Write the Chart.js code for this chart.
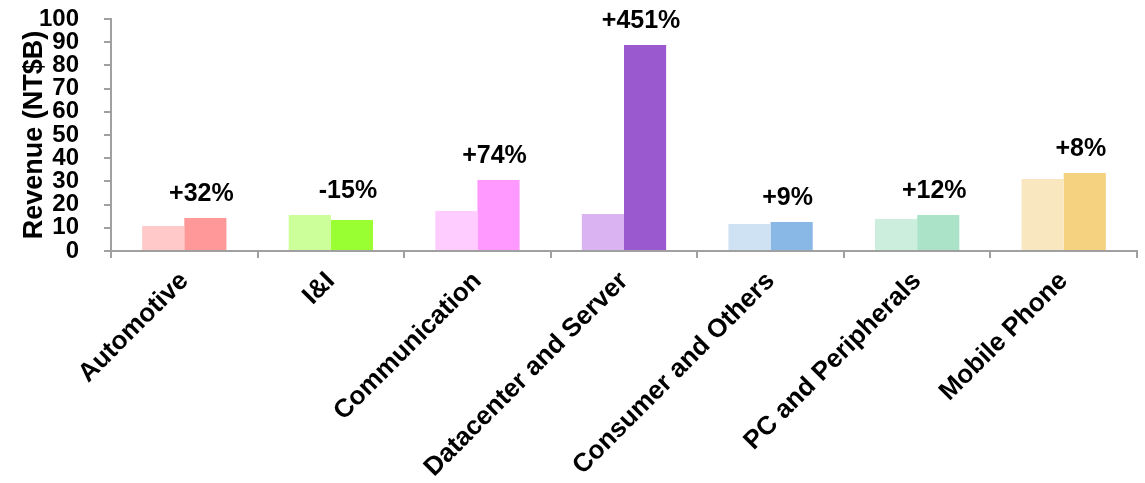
<!DOCTYPE html>
<html>
<head>
<meta charset="utf-8">
<script src="https://cdn.jsdelivr.net/npm/chart.js@4"></script>
<style>
  html, body { margin: 0; padding: 0; background: #fff; }
  #wrap { width: 1145px; height: 483px; }
</style>
</head>
<body>
<div id="wrap"><canvas id="chart"></canvas></div>
<script>
const categories = ['Automotive', 'I&I', 'Communication', 'Datacenter and Server',
    'Consumer and Others', 'PC and Peripherals', 'Mobile Phone'];
const priorRevenue = [10.8, 15.5, 17.2, 16.0, 11.6, 13.8, 31.0];
const currentRevenue = [14.2, 13.4, 30.6, 88.8, 12.5, 15.5, 33.6];
const growthLabels = ['+32%', '-15%', '+74%', '+451%', '+9%', '+12%', '+8%'];
const yTicks = [0, 10, 20, 30, 40, 50, 60, 70, 80, 90, 100];

const lightColors = ['#ffc9c9', '#ccff99', '#ffccff', '#d9b3f2', '#cfe2f3', '#ccefdd', '#f9e7c0'];
const darkColors = ['#ff9999', '#99ff33', '#ff99ff', '#9b59cf', '#8ab8e6', '#abe3c9', '#f4d27f'];

const FONT = '"Liberation Sans", Arial, sans-serif';

const growthPlugin = {
    id: 'growth',
    afterDatasetsDraw(chart) {
        const ctx = chart.ctx;
        const yScale = chart.scales.y;
        const dark = chart.getDatasetMeta(1).data;
        ctx.save();
        ctx.font = 'bold 25px ' + FONT;
        ctx.fillStyle = '#000';
        ctx.textAlign = 'center';
        ctx.textBaseline = 'middle';
        growthLabels.forEach((txt, i) => {
            const top = Math.max(priorRevenue[i], currentRevenue[i]);
            ctx.fillText(txt, dark[i].x - 4, yScale.getPixelForValue(top) - 24);
        });
        ctx.restore();
    }
};

new Chart(document.getElementById('chart'), {
    type: 'bar',
    data: {
        labels: categories,
        datasets: [{
            data: priorRevenue,
            backgroundColor: lightColors,
            barPercentage: 1.0,
            categoryPercentage: 0.575
        }, {
            data: currentRevenue,
            backgroundColor: darkColors,
            barPercentage: 1.0,
            categoryPercentage: 0.575
        }]
    },
    options: {
        responsive: true,
        maintainAspectRatio: false,
        animation: false,
        layout: { padding: { top: 0, right: 8, left: 18, bottom: 0 } },
        plugins: {
            legend: { display: false },
            tooltip: { enabled: false }
        },
        scales: {
            x: {
                afterFit(scale) {
                    // let the rotated first label run under the y axis
                    scale.paddingLeft = 0;
                    scale.paddingRight = 0;
                    scale.height = 232;
                },
                grid: {
                    offset: true,
                    drawOnChartArea: false,
                    drawTicks: true,
                    tickLength: 7,
                    color: '#a0a0a0',
                    lineWidth: 2
                },
                border: { color: '#a0a0a0', width: 2 },
                ticks: {
                    color: '#000',
                    font: { family: FONT, size: 26, weight: 'bold' },
                    maxRotation: 45,
                    minRotation: 45,
                    padding: 8,
                    autoSkip: false
                }
            },
            y: {
                min: 0,
                max: 100,
                afterBuildTicks(scale) {
                    scale.ticks = yTicks.map(v => ({ value: v }));
                },
                afterFit(scale) {
                    scale.width = 93;
                    scale.paddingTop = 19;
                    scale.paddingBottom = 14;
                },
                grid: {
                    drawOnChartArea: false,
                    tickLength: 7,
                    color: '#a0a0a0',
                    lineWidth: 2
                },
                border: { color: '#a0a0a0', width: 2 },
                ticks: {
                    color: '#000',
                    font: { family: FONT, size: 24, weight: 'bold' },
                    padding: 25,
                    autoSkip: false
                },
                title: {
                    display: true,
                    text: 'Revenue (NT$B)',
                    color: '#000',
                    font: { family: FONT, size: 27, weight: 'bold' },
                    padding: 0
                }
            }
        }
    },
    plugins: [growthPlugin]
});
</script>
</body>
</html>
